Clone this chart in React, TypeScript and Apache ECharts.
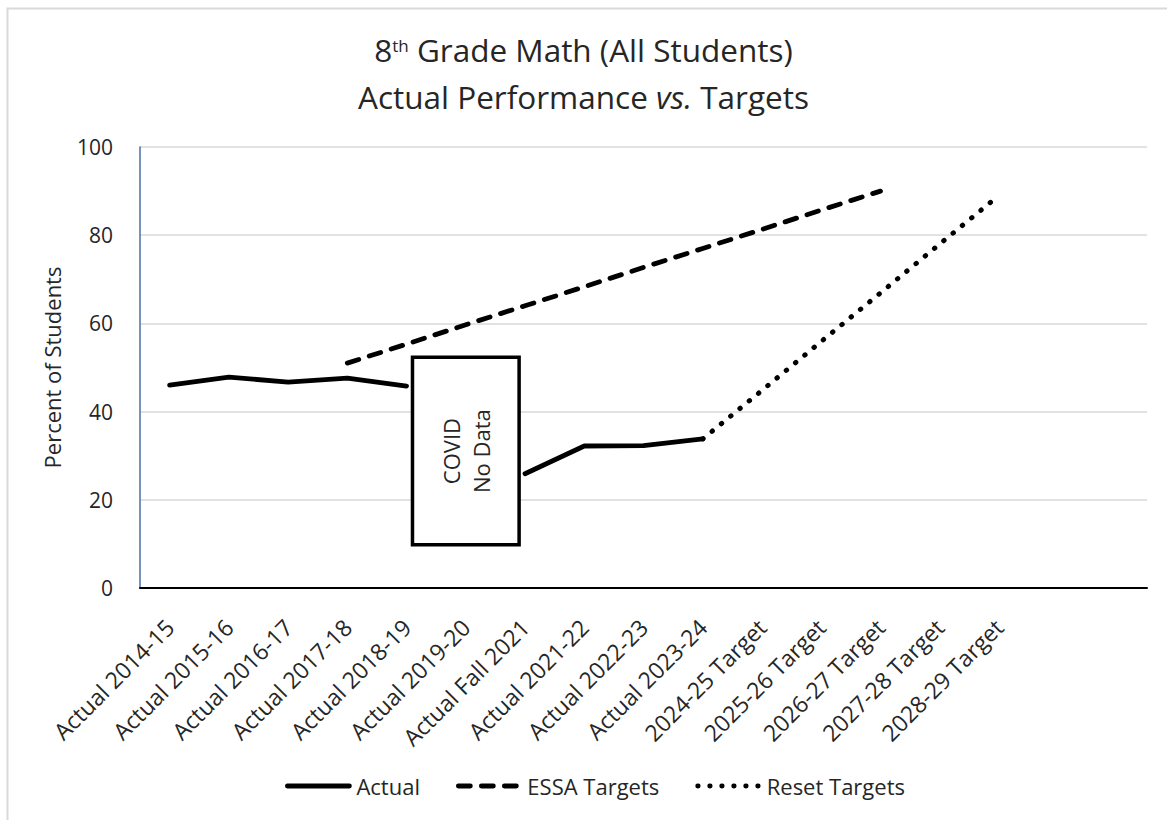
import React, { useEffect, useRef } from "react";
import * as echarts from "echarts";

const categories = [
  "Actual 2014-15",
  "Actual 2015-16",
  "Actual 2016-17",
  "Actual 2017-18",
  "Actual 2018-19",
  "Actual 2019-20",
  "Actual Fall 2021",
  "Actual 2021-22",
  "Actual 2022-23",
  "Actual 2023-24",
  "2024-25 Target",
  "2025-26 Target",
  "2026-27 Target",
  "2027-28 Target",
  "2028-29 Target",
  "",
  "",
];

const actual = [46.0, 47.8, 46.7, 47.6, 45.8, null, 25.9, 32.2, 32.3, 33.8, null, null, null, null, null, null, null];
const essaTargets = [null, null, null, 51.0, 55.3, 59.7, 64.0, 68.3, 72.7, 77.0, 81.3, 85.7, 90.0, null, null, null, null];
const resetTargets = [null, null, null, null, null, null, null, null, null, 33.8, 44.8, 55.9, 66.9, 78.0, 89.0, null, null];

const covidBox = { category: 5, widthInCategories: 1.8, top: 52.3, bottom: 9.8 };

const FONT = "'Open Sans', 'Noto Sans', sans-serif";
const TXT = "#262626";

export default function App() {
  const ref = useRef<HTMLDivElement>(null);
  useEffect(() => {
    if (!ref.current) return;
    const chart = echarts.init(ref.current, undefined, { renderer: "svg" });
    chart.setOption({
      animation: false,
      backgroundColor: "#ffffff",
      textStyle: { fontFamily: FONT },
      title: {
        left: "center",
        top: 21,
        text: "8{sup|th} Grade Math (All Students)\nActual Performance {i|vs.} Targets",
        textStyle: {
          fontFamily: FONT,
          fontSize: 31.5,
          fontWeight: "normal",
          color: TXT,
          lineHeight: 47,
          rich: {
            sup: { fontFamily: FONT, fontSize: 17, color: TXT, padding: [0, 0, 9, 0] },
            i: { fontFamily: FONT, fontSize: 31.5, fontStyle: "italic", color: TXT },
          },
        },
      },
      legend: {
        top: 768,
        left: 280,
        itemWidth: 62,
        itemHeight: 16,
        itemGap: 36,
        itemStyle: { opacity: 0, borderWidth: 0 },
        lineStyle: { width: 4.8, cap: "round" },
        textStyle: { fontFamily: FONT, fontSize: 22, color: TXT, lineHeight: 26, padding: [0, 0, 0, 2] },
        data: ["Actual", "ESSA Targets", "Reset Targets"],
      },
      grid: { left: 140, right: 20, top: 147, bottom: 232, containLabel: false },
      xAxis: {
        type: "category",
        data: categories,
        boundaryGap: true,
        axisLine: { show: true, lineStyle: { color: "#000000", width: 2 } },
        axisTick: { show: false },
        axisLabel: {
          interval: 0,
          rotate: 45,
          fontFamily: FONT,
          fontSize: 23,
          color: TXT,
          margin: 35,
        },
      },
      yAxis: {
        type: "value",
        min: 0,
        max: 100,
        interval: 20,
        name: "Percent of Students",
        nameLocation: "middle",
        nameGap: 77,
        nameTextStyle: { fontFamily: FONT, fontSize: 22, color: TXT },
        axisLine: { show: true, lineStyle: { color: "#4a6fa5", width: 1.5 } },
        axisTick: { show: false },
        axisLabel: { fontFamily: FONT, fontSize: 21, color: TXT, margin: 27 },
        splitLine: { lineStyle: { color: "#d9d9d9", width: 1.5 } },
      },
      series: [
        {
          name: "Actual",
          type: "line",
          data: actual,
          connectNulls: false,
          showSymbol: false,
          symbol: "none",
          lineStyle: { color: "#000000", width: 4.8, type: "solid", cap: "round", join: "round" },
          itemStyle: { color: "#000000" },
          z: 3,
        },
        {
          name: "ESSA Targets",
          type: "line",
          data: essaTargets,
          showSymbol: false,
          symbol: "none",
          lineStyle: { color: "#000000", width: 4.8, type: [12, 11], cap: "round" },
          itemStyle: { color: "#000000" },
          z: 3,
        },
        {
          name: "Reset Targets",
          type: "line",
          data: resetTargets,
          showSymbol: false,
          symbol: "none",
          lineStyle: { color: "#000000", width: 5, type: [0.5, 11.5], cap: "round" },
          itemStyle: { color: "#000000" },
          z: 3,
        },
      ],
    });

    const c0 = chart.convertToPixel({ xAxisIndex: 0, yAxisIndex: 0 }, [covidBox.category, covidBox.top]) as number[];
    const c1 = chart.convertToPixel({ xAxisIndex: 0, yAxisIndex: 0 }, [covidBox.category + 1, covidBox.bottom]) as number[];
    const catW = c1[0] - c0[0];
    const boxW = catW * covidBox.widthInCategories;
    const cx = c0[0];
    const topY = c0[1];
    const botY = c1[1];

    chart.setOption({
      graphic: [
        {
          type: "rect",
          left: 5,
          top: 6,
          shape: { x: 0, y: 0, width: 1200, height: 1200 },
          style: { fill: "none", stroke: "#d9d9d9", lineWidth: 2 },
          silent: true,
          z: -10,
        },
        {
          type: "rect",
          shape: { x: cx - boxW / 2, y: topY, width: boxW, height: botY - topY },
          style: { fill: "#ffffff", stroke: "#000000", lineWidth: 3.5 },
          z: 100,
        },
        {
          type: "text",
          x: cx,
          y: (topY + botY) / 2,
          rotation: Math.PI / 2,
          style: {
            text: "COVID\nNo Data",
            fontFamily: FONT,
            fontSize: 22,
            lineHeight: 30,
            fill: TXT,
            align: "center",
            verticalAlign: "middle",
          },
          z: 101,
        },
      ],
    });

    return () => chart.dispose();
  }, []);
  return (
    <div
      ref={ref}
      style={{ position: "fixed", left: 0, top: 0, width: 1167, height: 820, background: "#fff" }}
    />
  );
}
